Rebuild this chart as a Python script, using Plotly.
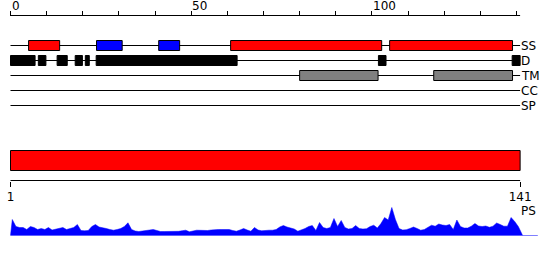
import plotly.graph_objects as go

# ---------------- data ----------------
seq_len = 141
ruler_ticks = list(range(0, 141, 10))
ruler_label_vals = [0, 50, 100]
ruler_label_text = ["0", "50", "100"]
end_tick_vals = [0, 141]
end_tick_text = ["1", "141"]

track_names = ["SS", "D", "TM", "CC", "SP"]
ss_helix = [[5.0, 13.6], [60.9, 102.7], [104.9, 138.9]]
ss_strand = [[23.8, 30.9], [41.0, 46.8]]
disorder = [[0.0, 6.8], [7.7, 9.8], [12.9, 15.7], [17.9, 19.9], [20.7, 21.8],
            [23.7, 62.7], [101.8, 103.9], [138.8, 141.0]]
transmem = [[80.0, 101.7], [117.1, 138.9]]
domain_bar = [[0.0, 141.0]]

ps_values = [
    16, 9, 8, 8, 6, 9, 8, 6, 7, 6,
    8, 5.5, 6.5, 7, 8, 6, 7, 8, 11, 5,
    4.7, 5, 9, 11, 8.5, 8, 7, 6, 5.3, 6,
    7, 9, 12.7, 6, 4.5, 4, 4.3, 4.7, 5.5, 6,
    5, 4, 4, 4, 3.8, 3.7, 4.2, 4.8, 5.3, 3.7,
    4.5, 5.3, 5.2, 5, 5, 5.5, 6, 6, 6, 6,
    6, 5, 4.3, 5.5, 7, 5.5, 4.3, 8, 5.5, 4.7,
    5.2, 5.3, 5.3, 6, 8.5, 10, 8.5, 7.8, 6.5, 4.3,
    5.5, 7, 9, 10, 5, 13, 8, 7, 8, 17,
    9, 15, 8, 6.5, 7, 10, 7, 6.5, 6.8, 9,
    10.3, 7.5, 12, 18, 15.5, 28, 16, 7, 5.5, 5.8,
    7, 8.5, 7, 5.3, 6, 8, 10.3, 9.3, 11.5, 10.5,
    10, 11, 6, 15.5, 9, 7.5, 7.5, 9.3, 12, 9.5,
    9, 9.5, 8.2, 9.3, 12.5, 11, 9.3, 9.3, 18, 14,
    9,
]

# ---------------- layout constants (pixels) ----------------
W, H = 550, 260
px0 = 10.5
scale = 506.0 / 140.0
x_range = [-px0 / scale, (W - px0) / scale]
FONT = "DejaVu Sans"

track_y = {"SS": 45.5, "D": 60.5, "TM": 75.5, "CC": 90.5, "SP": 105.5}
half_h = 5

shapes = []
annotations = []

# track lines
for name in track_names:
    y = track_y[name]
    shapes.append(dict(type="line", xref="x", yref="y", x0=0, x1=seq_len, y0=y, y1=y,
                       line=dict(color="black", width=1)))
    annotations.append(dict(x=seq_len, y=y, xref="x", yref="y", text=name,
                            xanchor="left", yanchor="middle", showarrow=False,
                            xshift=-1, font=dict(family=FONT, size=12, color="black")))


def boxes(segs, yc, color):
    for a, b in segs:
        shapes.append(dict(type="rect", xref="x", yref="y", x0=a, x1=b,
                           y0=yc - half_h, y1=yc + half_h, fillcolor=color,
                           line=dict(color="black", width=1)))


boxes(ss_helix, track_y["SS"], "#ff0000")
boxes(ss_strand, track_y["SS"], "#0000ff")
boxes(disorder, track_y["D"], "#000000")
boxes(transmem, track_y["TM"], "#808080")

# domain bar
for a, b in domain_bar:
    shapes.append(dict(type="rect", xref="x", yref="y", x0=a, x1=b, y0=150.5, y1=170.5,
                       fillcolor="#ff0000", line=dict(color="black", width=1)))

# rulers lines
shapes.append(dict(type="line", xref="x", yref="y", x0=0, x1=seq_len, y0=15.5, y1=15.5,
                   line=dict(color="black", width=1)))
shapes.append(dict(type="line", xref="x", yref="y", x0=0, x1=seq_len, y0=180.5, y1=180.5,
                   line=dict(color="black", width=1)))

for v, t in zip(ruler_label_vals, ruler_label_text):
    annotations.append(dict(x=v, y=6, xref="x", yref="y", text=t, xanchor="left",
                            yanchor="middle", showarrow=False, xshift=-1,
                            font=dict(family=FONT, size=12, color="black")))

# profile baseline
shapes.append(dict(type="line", xref="x", yref="y2", x0=0, x1=145.9, y0=0, y1=0,
                   line=dict(color="#0000ff", width=1)))
annotations.append(dict(x=seq_len, y=210.8, xref="x", yref="y", text="PS",
                        xanchor="left", yanchor="middle", showarrow=False, xshift=-1,
                        font=dict(family=FONT, size=12, color="black")))

# ---------------- traces ----------------
px_x = [0.0] + [i - 0.5 for i in range(1, len(ps_values) + 1)] + [seq_len + 0.7]
px_y = [0.0] + ps_values + [0.0]

fig = go.Figure()
fig.add_trace(go.Scatter(x=px_x, y=px_y, xaxis="x", yaxis="y2", mode="lines",
                         fill="tozeroy", fillcolor="#0000ff",
                         line=dict(color="#0000ff", width=0.5), hoverinfo="skip"))
fig.add_trace(go.Scatter(x=[None], y=[None], xaxis="x2", yaxis="y", showlegend=False))
fig.add_trace(go.Scatter(x=[None], y=[None], xaxis="x3", yaxis="y", showlegend=False))

axis_off = dict(showgrid=False, zeroline=False, showticklabels=False, showline=False)

fig.update_layout(
    width=W, height=H, margin=dict(l=0, r=0, t=0, b=0),
    paper_bgcolor="white", plot_bgcolor="rgba(0,0,0,0)", showlegend=False,
    xaxis=dict(range=x_range, domain=[0, 1], visible=False, anchor="y"),
    yaxis=dict(range=[H, 0], domain=[0, 1], visible=False, anchor="x"),
    yaxis2=dict(range=[0, 30], domain=[(H - 235.5) / H, (H - 205.5) / H],
                visible=False, anchor="x"),
    xaxis2=dict(range=x_range, overlaying="x", anchor="free", position=(H - 15.5) / H,
                side="top", tickvals=ruler_ticks, ticks="outside", ticklen=5,
                tickcolor="black", tickwidth=1, **axis_off),
    xaxis3=dict(range=x_range, overlaying="x", anchor="free", position=(H - 180.5) / H,
                side="bottom", tickvals=end_tick_vals, ticktext=end_tick_text,
                ticks="outside", ticklen=5, tickcolor="black", tickwidth=1,
                showticklabels=True, showgrid=False, zeroline=False, showline=False,
                tickfont=dict(family=FONT, size=12, color="black")),
    shapes=shapes, annotations=annotations,
)

fig.write_html("out.html")
